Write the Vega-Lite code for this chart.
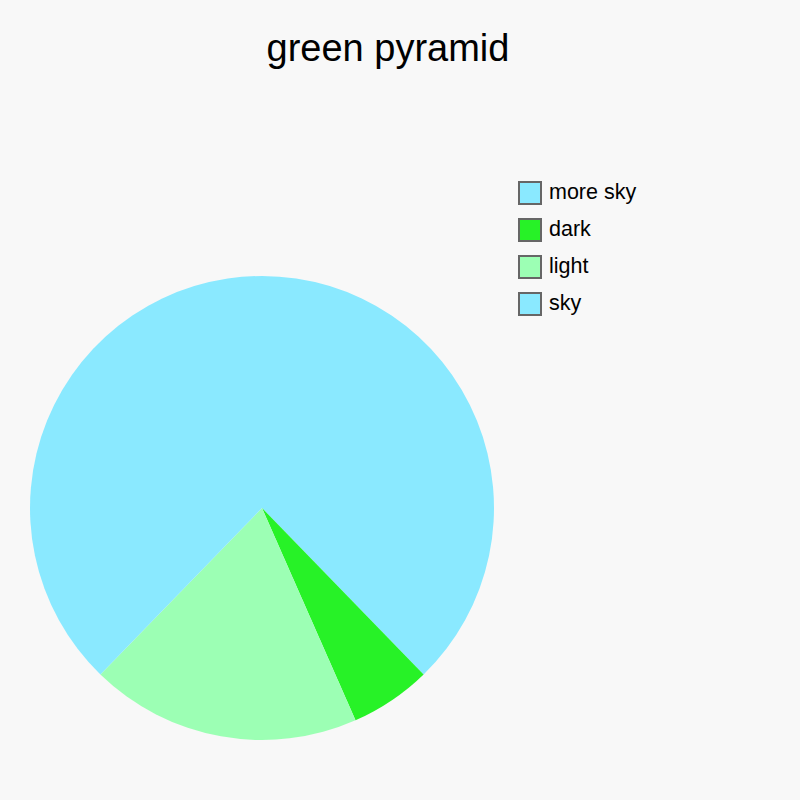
{
  "$schema": "https://vega.github.io/schema/vega-lite/v6.json",
  "autosize": "none",
  "width": 524,
  "height": 464,
  "padding": {"left": 0, "top": 276, "right": 276, "bottom": 60},
  "background": "#f8f8f8",
  "title": {
    "text": "green pyramid",
    "font": "Liberation Sans",
    "fontSize": 38,
    "fontWeight": "normal",
    "color": "#000000",
    "anchor": "middle",
    "dx": 126,
    "offset": 112
  },
  "data": {
    "values": [
      {"label": "more sky", "value": 40, "rank": 1},
      {"label": "dark", "value": 6, "rank": 2},
      {"label": "light", "value": 20, "rank": 3},
      {"label": "sky", "value": 40, "rank": 4}
    ]
  },
  "mark": {"type": "arc", "strokeWidth": 0},
  "encoding": {
    "theta": {"field": "value", "type": "quantitative", "stack": true},
    "order": {"field": "rank", "type": "quantitative"},
    "color": {
      "field": "label",
      "type": "nominal",
      "scale": {
        "domain": ["more sky", "dark", "light", "sky"],
        "range": ["#8ae9ff", "#27f227", "#9cffb4", "#8ae9ff"]
      },
      "legend": {
        "title": null,
        "orient": "none",
        "legendX": 518,
        "legendY": -95,
        "symbolType": "square",
        "symbolSize": 484,
        "symbolStrokeColor": "#666666",
        "symbolStrokeWidth": 2,
        "symbolOpacity": 1,
        "labelFont": "Liberation Sans",
        "labelFontSize": 21.5,
        "labelColor": "#000000",
        "labelOffset": 7,
        "rowPadding": 7
      }
    }
  },
  "config": {"view": {"stroke": null}}
}
